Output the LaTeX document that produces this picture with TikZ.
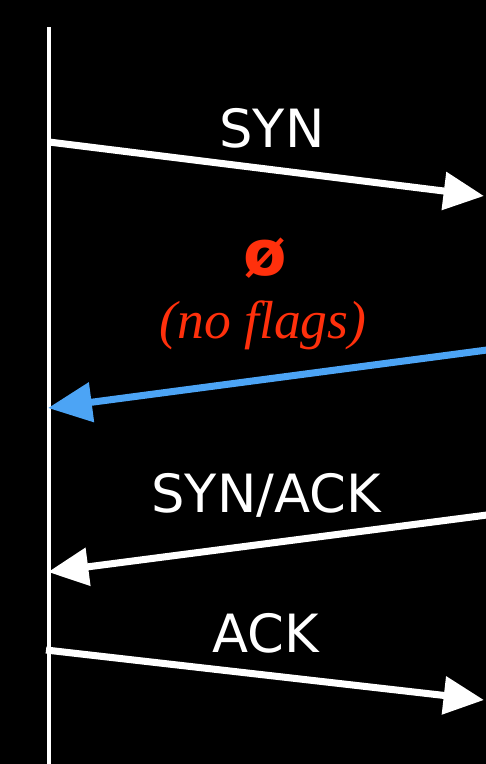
\documentclass[tikz,border=0pt]{standalone}
\usepackage{fontspec}
\setmainfont{DejaVu Sans}
\newfontfamily\flagfont{Liberation Serif}
\usetikzlibrary{arrows.meta}
\definecolor{flagred}{RGB}{255,48,12}
\definecolor{rstblue}{RGB}{76,164,245}

\begin{document}
\begin{tikzpicture}[x=0.02cm, y=-0.02cm,
        timeline/.style={draw=white, line width=2pt},
        msg/.style={draw=white, line width=4pt, -{Triangle[length=23pt, width=21pt]}},
        blue msg/.style={msg, draw=rstblue, -{Triangle[length=25pt, width=22pt]}},
        label/.style={text=white, inner sep=0pt, font=\fontsize{30}{32}\selectfont},
        flag/.style={text=flagred, inner sep=0pt}
    ]
        % Background
        \fill[black] (0,0) rectangle (486,764);
        \useasboundingbox (0,0) rectangle (486,764);

        % Time line
        \coordinate (host-top) at (49,27);
        \coordinate (host-bottom) at (49,764);
        \draw[timeline] (host-top) -- (host-bottom);

        % End points
        \coordinate (syn-start) at (49,142);
        \coordinate (syn-end) at (484,196);
        \coordinate (rst-start) at (487,350);
        \coordinate (rst-end) at (48,408);
        \coordinate (synack-start) at (487,515);
        \coordinate (synack-end) at (48,572);
        \coordinate (ack-start) at (46,650);
        \coordinate (ack-end) at (484,700);

        % Labels
        \node[label] (syn) at (272,128) {SYN};
        \node[flag, font=\fontsize{36}{38}\selectfont\bfseries] (empty) at (265,258) {ø};
        \node[flag, font=\fontsize{30.5}{32}\selectfont\flagfont\itshape] (noflags) at (263,325) {(no flags)};
        \node[label] (synack) at (266,495) {SYN/ACK};
        \node[label] (ack) at (266,633) {ACK};

        % Paths: Messages
        \draw[msg] (syn-start) -- (syn-end);
        \draw[blue msg] (rst-start) -- (rst-end);
        \draw[msg] (synack-start) -- (synack-end);
        \draw[msg] (ack-start) -- (ack-end);
    \end{tikzpicture}
\end{document}
